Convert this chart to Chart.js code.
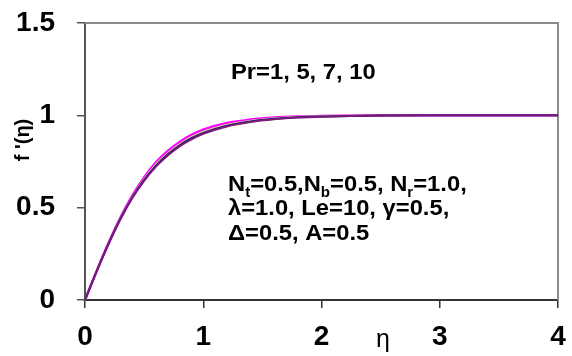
<!DOCTYPE html>
<html>
<head>
<meta charset="utf-8">
<script src="https://cdn.jsdelivr.net/npm/chart.js@4/dist/chart.umd.min.js"></script>
<style>
  body { margin: 0; background: #fff; }
  canvas { display: block; }
</style>
</head>
<body>
<canvas id="grafico" width="572" height="356"></canvas>
<script>
// datos
const eta = [0, 0.1, 0.2, 0.3, 0.4, 0.5, 0.6, 0.7, 0.8, 0.9, 1.0, 1.2, 1.4, 1.6, 1.8, 2.0, 2.5, 3, 3.5, 4];
const fPr1  = [0, 0.159, 0.310, 0.446, 0.565, 0.664, 0.745, 0.807, 0.856, 0.894, 0.922, 0.958, 0.977, 0.988, 0.994, 0.997, 1.0, 1.0, 1.0, 1.0];
const fPr5  = [0, 0.159, 0.309, 0.443, 0.560, 0.657, 0.736, 0.797, 0.846, 0.884, 0.913, 0.951, 0.972, 0.985, 0.992, 0.996, 1.0, 1.0, 1.0, 1.0];
const fPr7  = [0, 0.158, 0.306, 0.440, 0.555, 0.650, 0.728, 0.789, 0.838, 0.876, 0.905, 0.944, 0.967, 0.981, 0.990, 0.994, 0.999, 1.0, 1.0, 1.0];
const fPr10 = [0, 0.158, 0.305, 0.438, 0.552, 0.645, 0.722, 0.783, 0.832, 0.870, 0.900, 0.940, 0.964, 0.979, 0.988, 0.993, 0.999, 1.0, 1.0, 1.0];
const etiquetasSerie = ['Pr=1', 'Pr=5', 'Pr=7', 'Pr=10'];
const ticksX = [0, 1, 2, 3, 4];
const ticksY = [0, 0.5, 1, 1.5];

const FUENTE = 'Arial, "Liberation Sans", sans-serif';

function puntos(ys) {
    return eta.map((x, i) => ({ x: x, y: ys[i] }));
}

function serie(label, ys, color, ancho) {
    return {
        label: label,
        data: puntos(ys),
        borderColor: color,
        borderWidth: ancho,
        pointRadius: 0,
        fill: false,
        cubicInterpolationMode: 'monotone'
    };
}

// Dibuja texto con subindices: partes = [[texto, esSub], ...]
function textoConSub(ctx, partes, x, y, size, sx) {
    ctx.save();
    ctx.translate(x, y);
    ctx.scale(sx, 1);
    let cx = 0;
    partes.forEach(p => {
        const sub = p[1];
        ctx.font = 'bold ' + (sub ? Math.round(size * 0.65) : size) + 'px ' + FUENTE;
        ctx.fillText(p[0], cx, sub ? size * 0.25 : 0);
        cx += ctx.measureText(p[0]).width;
    });
    ctx.restore();
}

const anotaciones = {
    id: 'anotaciones',
    beforeDatasetsDraw(chart) {
        const { ctx, chartArea } = chart;
        // borde superior y derecho del area de trazado
        ctx.save();
        ctx.strokeStyle = '#8a8a8a';
        ctx.lineWidth = 2;
        ctx.beginPath();
        ctx.moveTo(chartArea.left, chartArea.top);
        ctx.lineTo(chartArea.right, chartArea.top);
        ctx.lineTo(chartArea.right, chartArea.bottom);
        ctx.stroke();
        ctx.restore();
    },
    afterDraw(chart) {
        const { ctx } = chart;
        ctx.save();
        ctx.fillStyle = '#000';
        ctx.textBaseline = 'alphabetic';
        ctx.textAlign = 'left';

        textoConSub(ctx, [['Pr=1, 5, 7, 10', false]], 231, 79, 22, 1.08);

        textoConSub(ctx, [['N', false], ['t', true], ['=0.5,N', false], ['b', true],
            ['=0.5, N', false], ['r', true], ['=1.0,', false]], 228, 191, 22, 1.08);
        textoConSub(ctx, [['\u03BB=1.0, Le=10, \u03B3=0.5,', false]], 228, 215, 22, 1.08);
        textoConSub(ctx, [['\u0394=0.5, A=0.5', false]], 228, 240, 22, 1.08);

        // titulo eje x (eta) entre 2 y 3
        ctx.font = '25px ' + FUENTE;
        ctx.textAlign = 'center';
        ctx.fillText('\u03B7', 383, 347);

        // titulo eje y
        ctx.translate(23, 140);
        ctx.rotate(-Math.PI / 2);
        ctx.font = 'bold 20px ' + FUENTE;
        ctx.textBaseline = 'middle';
        ctx.fillText("f '(\u03B7)", 0, 0);
        ctx.restore();
    }
};

const ctx = document.getElementById('grafico').getContext('2d');
new Chart(ctx, {
    type: 'line',
    data: {
        datasets: [
            serie(etiquetasSerie[0], fPr1, '#ff00ff', 2.5),
            serie(etiquetasSerie[1], fPr5, '#d9d98c', 1.5),
            serie(etiquetasSerie[2], fPr7, '#1c1c7a', 2),
            serie(etiquetasSerie[3], fPr10, '#7a1a7a', 2)
        ].reverse()
    },
    options: {
        responsive: false,
        animation: false,
        layout: { padding: { top: 23, right: 14, left: 0, bottom: 0 } },
        plugins: {
            legend: { display: false },
            tooltip: { enabled: false }
        },
        scales: {
            x: {
                type: 'linear',
                min: 0,
                max: 4,
                afterBuildTicks: s => { s.ticks = ticksX.map(v => ({ value: v })); },
                afterFit: s => { s.height = 56; s.paddingLeft = 0; s.paddingRight = 0; },
                border: { color: '#333', width: 2 },
                grid: { drawOnChartArea: false, drawTicks: true, tickLength: 8, color: '#333', lineWidth: 1.5 },
                ticks: {
                    color: '#000',
                    padding: 12,
                    maxRotation: 0,
                    font: { family: FUENTE, size: 28, weight: 'bold' }
                }
            },
            y: {
                min: 0,
                max: 1.5,
                afterBuildTicks: s => { s.ticks = ticksY.map(v => ({ value: v })); },
                afterFit: s => { s.width = 85; s.paddingTop = 0; s.paddingBottom = 0; },
                border: { color: '#555', width: 2 },
                grid: { drawOnChartArea: false, drawTicks: true, tickLength: 8, color: '#555', lineWidth: 1.5 },
                ticks: {
                    color: '#000',
                    padding: 22,
                    callback: v => String(v),
                    font: { family: FUENTE, size: 28, weight: 'bold' }
                }
            }
        }
    },
    plugins: [anotaciones]
});
</script>
</body>
</html>
